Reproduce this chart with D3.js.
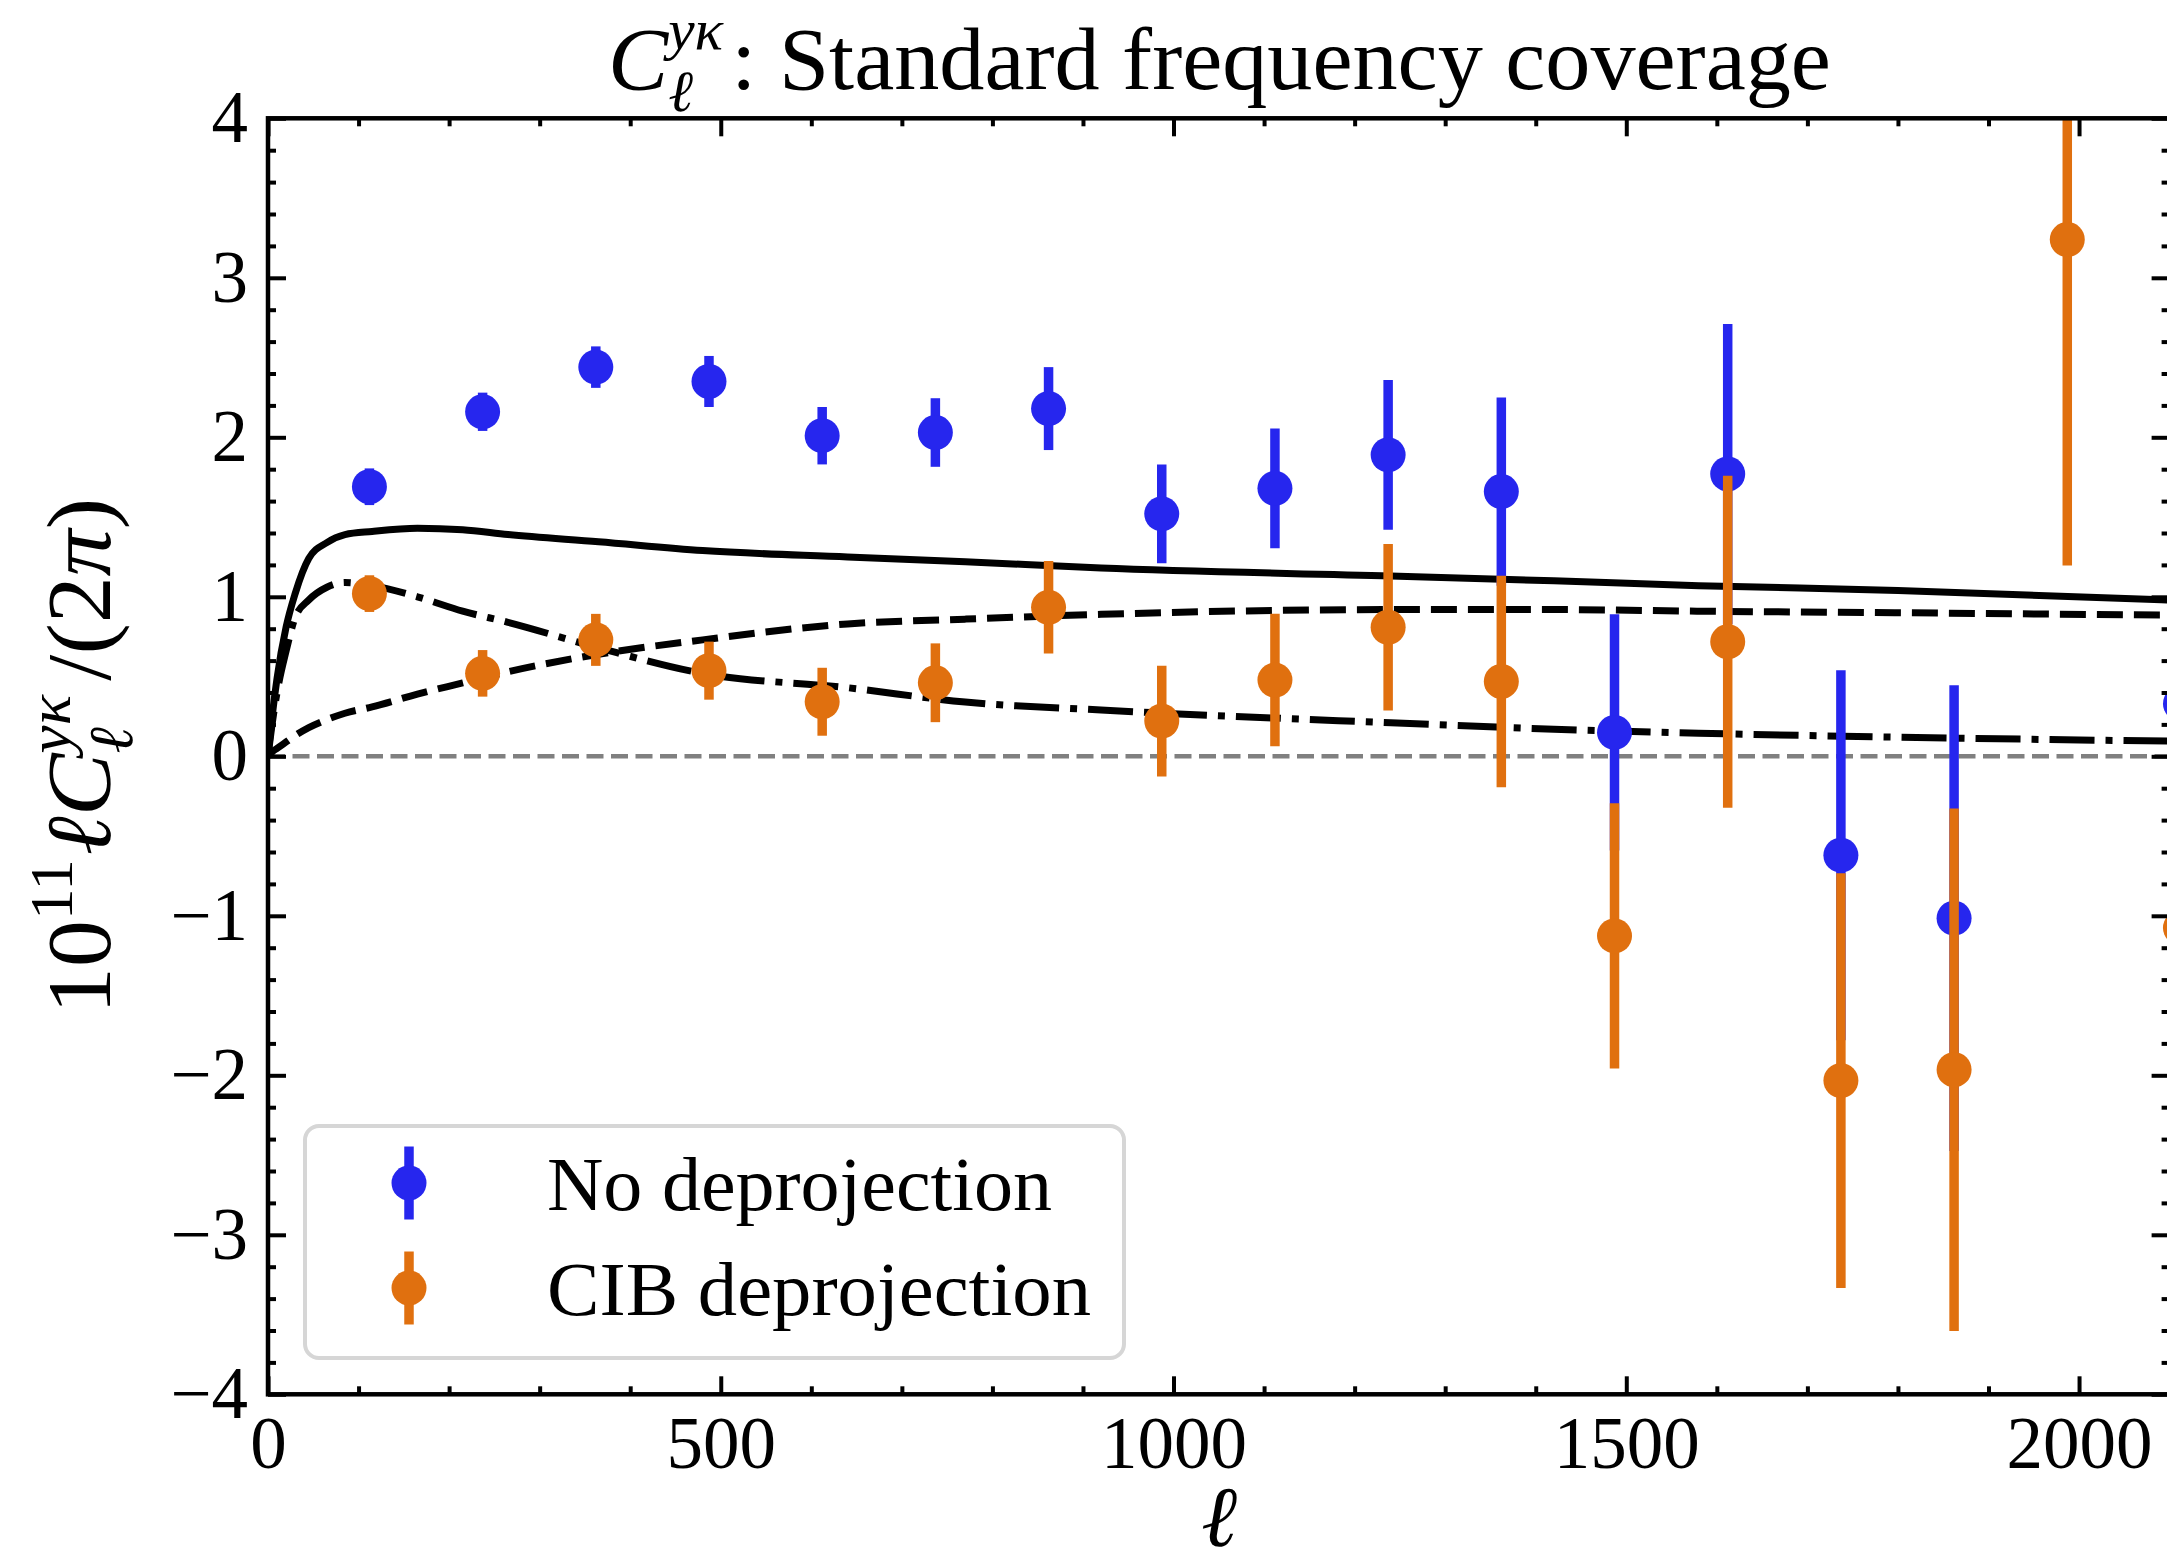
<!DOCTYPE html>
<html>
<head>
<meta charset="utf-8">
<script src="https://cdn.jsdelivr.net/npm/d3@7"></script>
<style>
  body { margin: 0; background: #fff; }
  svg { display: block; }
</style>
</head>
<body>
<svg id="chart" width="2167" height="1563"></svg>
<script>

// ell bin centres shared by both measurements
var ellBins = [112, 237, 362, 487, 612, 737, 862, 987, 1112, 1237, 1362, 1487, 1612, 1737, 1862, 1987, 2112];

// no deprojection (blue); the ell~1987 point falls off the top of the plot
var noDeprojVal = [1.69, 2.16, 2.44, 2.35, 2.01, 2.03, 2.18, 1.52, 1.68, 1.89, 1.66, 0.15, 1.77, -0.62, -1.015, null, 0.33];
var noDeprojErr = [0.115, 0.12, 0.13, 0.16, 0.18, 0.215, 0.26, 0.31, 0.375, 0.47, 0.59, 0.74, 0.94, 1.16, 1.46, null, 2.3];

// CIB deprojection (orange)
var cibDeprojVal = [1.02, 0.52, 0.73, 0.537, 0.342, 0.461, 0.934, 0.221, 0.478, 0.809, 0.469, -1.126, 0.718, -2.033, -1.965, 3.24, -1.076];
var cibDeprojErr = [0.115, 0.146, 0.163, 0.182, 0.213, 0.247, 0.29, 0.347, 0.415, 0.522, 0.663, 0.832, 1.041, 1.30, 1.638, 2.044, 2.55];

// model curves
var modelEll     = [0, 5, 10, 20, 30, 45, 65, 85, 115, 165, 215, 265, 365, 480, 640, 770, 920, 1240, 1420, 1580, 1800, 2100];
var totalModel   = [0, 0.27, 0.49, 0.81, 1.02, 1.24, 1.34, 1.39, 1.41, 1.43, 1.42, 1.39, 1.345, 1.29, 1.25, 1.22, 1.18, 1.13, 1.10, 1.07, 1.04, 0.98];
var oneHaloModel = [0, 0.03, 0.05, 0.09, 0.13, 0.18, 0.23, 0.27, 0.31, 0.39, 0.46, 0.53, 0.64, 0.73, 0.83, 0.86, 0.89, 0.92, 0.92, 0.91, 0.90, 0.885];
var twoHaloModel = [0, 0.22, 0.40, 0.66, 0.87, 0.98, 1.06, 1.09, 1.07, 1.00, 0.91, 0.84, 0.68, 0.52, 0.43, 0.34, 0.29, 0.21, 0.17, 0.145, 0.12, 0.095];

// ticks
var xMajor = [0, 500, 1000, 1500, 2000];
var xMinor = d3.range(100, 2100, 100).filter(function(v){ return v % 500 !== 0; });
var yMajor = [-4, -3, -2, -1, 0, 1, 2, 3, 4];
var yMinor = d3.range(-20, 21).map(function(i){ return i / 5; })
               .filter(function(v){ return Math.abs(v - Math.round(v)) > 1e-6; });

var legendLabels = ['No deprojection', 'CIB deprojection'];
var legendWidths = [505, 544];

var W = 2167, H = 1563;
var font = '"Liberation Serif", "DejaVu Serif", serif';
var blue = '#2626ee';
var orange = '#e0700f';

var svg = d3.select('#chart');

svg.append('rect')
  .attr('width', W)
  .attr('height', H)
  .style('fill', 'white');

var x = d3.scaleLinear().domain([0, 2100]).range([268, 2169.6]);
var y = d3.scaleLinear().domain([-4, 4]).range([1394.3, 118.3]);

svg.append('defs')
  .append('clipPath')
  .attr('id', 'plot-clip')
  .append('rect')
  .attr('x', x(0))
  .attr('y', y(4))
  .attr('width', x(2100) - x(0))
  .attr('height', y(-4) - y(4));

var plot = svg.append('g').attr('clip-path', 'url(#plot-clip)');

// zero line
plot.append('line')
  .attr('x1', x(0))
  .attr('x2', x(2100))
  .attr('y1', y(0))
  .attr('y2', y(0))
  .style('stroke', '#808080')
  .style('stroke-width', 4.5)
  .style('stroke-dasharray', '17,7.5');

// model curves
var models = [
  {vals: totalModel, dash: null},
  {vals: oneHaloModel, dash: '26,11'},
  {vals: twoHaloModel, dash: '45,11,7,11'}
];

var model_line = d3.line()
  .x(function(d, i){ return x(modelEll[i]); })
  .y(function(d){ return y(d); })
  .curve(d3.curveMonotoneX);

models.forEach(function(m){
  plot.append('path')
    .attr('d', model_line(m.vals))
    .style('fill', 'none')
    .style('stroke', '#000')
    .style('stroke-width', 7)
    .style('stroke-linejoin', 'round')
    .style('stroke-dasharray', m.dash);
});

// data points with error bars
var series = [
  {name: legendLabels[0], color: blue, vals: noDeprojVal, errs: noDeprojErr},
  {name: legendLabels[1], color: orange, vals: cibDeprojVal, errs: cibDeprojErr}
];

series.forEach(function(s){
  var pts = ellBins.map(function(l, i){
    return {ell: l, val: s.vals[i], err: s.errs[i]};
  }).filter(function(d){ return d.val !== null; });

  var g = plot.append('g');

  g.selectAll('line')
    .data(pts)
    .enter()
    .append('line')
    .attr('x1', function(d){ return x(d.ell); })
    .attr('x2', function(d){ return x(d.ell); })
    .attr('y1', function(d){ return y(d.val - d.err); })
    .attr('y2', function(d){ return y(d.val + d.err); })
    .style('stroke', s.color)
    .style('stroke-width', 9.5);

  g.selectAll('circle')
    .data(pts)
    .enter()
    .append('circle')
    .attr('cx', function(d){ return x(d.ell); })
    .attr('cy', function(d){ return y(d.val); })
    .attr('r', 17.5)
    .style('fill', s.color);
});

// axes, ticks pointing in on all four sides
function style_axis(g){
  g.select('.domain').remove();
  g.selectAll('line').style('stroke', '#000').style('stroke-width', 4);
  g.selectAll('text')
    .style('font-family', font)
    .style('font-size', '73px')
    .style('fill', '#000');
}

svg.append('g')
  .attr('transform', 'translate(0,' + y(-4) + ')')
  .call(d3.axisBottom(x).tickValues(xMajor).tickSize(-18).tickSizeOuter(0).tickPadding(22).tickFormat(d3.format('d')))
  .call(style_axis);
svg.append('g')
  .attr('transform', 'translate(0,' + y(-4) + ')')
  .call(d3.axisBottom(x).tickValues(xMinor).tickSize(-8).tickSizeOuter(0).tickFormat(''))
  .call(style_axis);
svg.append('g')
  .attr('transform', 'translate(0,' + y(4) + ')')
  .call(d3.axisTop(x).tickValues(xMajor).tickSize(-18).tickSizeOuter(0).tickFormat(''))
  .call(style_axis);
svg.append('g')
  .attr('transform', 'translate(0,' + y(4) + ')')
  .call(d3.axisTop(x).tickValues(xMinor).tickSize(-8).tickSizeOuter(0).tickFormat(''))
  .call(style_axis);

svg.append('g')
  .attr('transform', 'translate(' + x(0) + ',0)')
  .call(d3.axisLeft(y).tickValues(yMajor).tickSize(-18).tickSizeOuter(0).tickPadding(20).tickFormat(d3.format('d')))
  .call(style_axis);
svg.append('g')
  .attr('transform', 'translate(' + x(0) + ',0)')
  .call(d3.axisLeft(y).tickValues(yMinor).tickSize(-8).tickSizeOuter(0).tickFormat(''))
  .call(style_axis);
svg.append('g')
  .attr('transform', 'translate(' + x(2100) + ',0)')
  .call(d3.axisRight(y).tickValues(yMajor).tickSize(-18).tickSizeOuter(0).tickFormat(''))
  .call(style_axis);
svg.append('g')
  .attr('transform', 'translate(' + x(2100) + ',0)')
  .call(d3.axisRight(y).tickValues(yMinor).tickSize(-8).tickSizeOuter(0).tickFormat(''))
  .call(style_axis);

// frame
svg.append('rect')
  .attr('x', x(0))
  .attr('y', y(4))
  .attr('width', x(2100) - x(0))
  .attr('height', y(-4) - y(4))
  .style('fill', 'none')
  .style('stroke', '#000')
  .style('stroke-width', 4.5);

// title
var title = svg.append('text')
  .attr('x', 0)
  .attr('y', 89)
  .style('font-family', font)
  .style('font-size', '88px')
  .style('fill', '#000');
title.append('tspan').style('font-style', 'italic').text('C');
var t_sub = title.append('tspan')
  .style('font-style', 'italic').style('font-size', '58px')
  .attr('dy', 22).text('\u2113');
var t_sup = title.append('tspan')
  .style('font-style', 'italic').style('font-size', '58px')
  .attr('dy', -62).text('y\u03ba');
title.append('tspan').attr('dy', 40).attr('dx', 8).text(': Standard frequency coverage');
t_sup.attr('dx', -t_sub.node().getComputedTextLength());

var tb = title.node().getBBox();
var ts = 1223 / tb.width;
title.attr('transform', 'translate(' + (608 - tb.x * ts) + ',0) scale(' + ts + ',1)');

// y label
var ylab_g = svg.append('g').attr('transform', 'translate(110,756) rotate(-90)');
var ylab = ylab_g.append('text')
  .attr('x', 0)
  .attr('y', 0)
  .style('font-family', font)
  .style('font-size', '92px')
  .style('fill', '#000');
ylab.append('tspan').text('10');
ylab.append('tspan').style('font-size', '62px').attr('dy', -38).text('11');
ylab.append('tspan').style('font-style', 'italic').attr('dy', 38).attr('dx', 4).text('\u2113C');
var y_sub = ylab.append('tspan')
  .style('font-style', 'italic').style('font-size', '62px')
  .attr('dy', 22).text('\u2113');
var y_sup = ylab.append('tspan')
  .style('font-style', 'italic').style('font-size', '62px')
  .attr('dy', -62).text('y\u03ba');
ylab.append('tspan').attr('dy', 40).attr('dx', 14).text('/(2');
ylab.append('tspan').style('font-style', 'italic').text('\u03c0');
ylab.append('tspan').text(')');
y_sup.attr('dx', -y_sub.node().getComputedTextLength());

var yb = ylab.node().getBBox();
var ys = 516 / yb.width;
ylab.attr('transform', 'translate(' + (-(yb.x + yb.width / 2) * ys) + ',0) scale(' + ys + ',1)');

// x label
svg.append('text')
  .attr('x', (x(0) + x(2100)) / 2)
  .attr('y', 1546)
  .attr('text-anchor', 'middle')
  .style('font-family', font)
  .style('font-size', '86px')
  .style('font-style', 'italic')
  .style('fill', '#000')
  .text('\u2113');

// legend
var legend = svg.append('g');
legend.append('rect')
  .attr('x', 305)
  .attr('y', 1126)
  .attr('width', 819)
  .attr('height', 232)
  .attr('rx', 14)
  .attr('ry', 14)
  .style('fill', 'white')
  .style('fill-opacity', 0.8)
  .style('stroke', '#d6d6d6')
  .style('stroke-width', 4);

series.forEach(function(s, i){
  var cy = 1183 + i * 105;
  legend.append('line')
    .attr('x1', 409).attr('x2', 409)
    .attr('y1', cy - 36.5).attr('y2', cy + 36.5)
    .style('stroke', s.color)
    .style('stroke-width', 9.5);
  legend.append('circle')
    .attr('cx', 409).attr('cy', cy).attr('r', 17.5)
    .style('fill', s.color);
  legend.append('text')
    .attr('x', 547)
    .attr('y', cy + 27)
    .attr('textLength', legendWidths[i])
    .attr('lengthAdjust', 'spacingAndGlyphs')
    .style('font-family', font)
    .style('font-size', '76px')
    .style('fill', '#000')
    .text(s.name);
});

</script>
</body>
</html>
